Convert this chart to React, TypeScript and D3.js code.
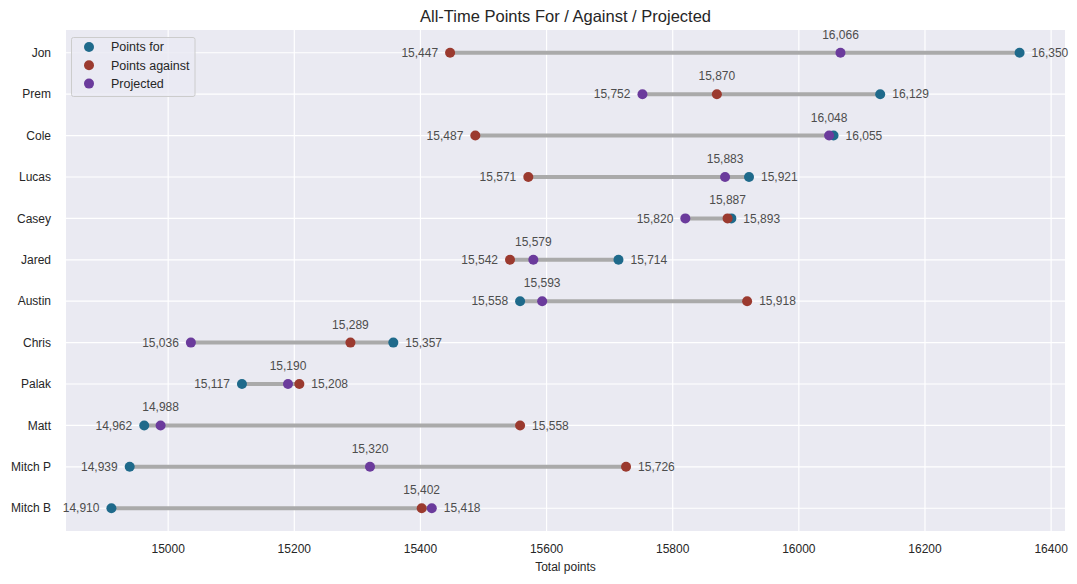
import React from "react";
import * as d3 from "d3";

const players = ["Jon", "Prem", "Cole", "Lucas", "Casey", "Jared", "Austin", "Chris", "Palak", "Matt", "Mitch P", "Mitch B"];
const pointsFor = [16350, 16129, 16055, 15921, 15893, 15714, 15558, 15357, 15117, 14962, 14939, 14910];
const pointsAgainst = [15447, 15870, 15487, 15571, 15887, 15542, 15918, 15289, 15208, 15558, 15726, 15402];
const projected = [16066, 15752, 16048, 15883, 15820, 15579, 15593, 15036, 15190, 14988, 15320, 15418];
const xTicks = [15000, 15200, 15400, 15600, 15800, 16000, 16200, 16400];

const series = [
  { name: "Points for", values: pointsFor, color: "#1f6a8b" },
  { name: "Points against", values: pointsAgainst, color: "#9b3a2f" },
  { name: "Projected", values: projected, color: "#6b3b9c" },
];

const W = 1077, H = 584;
const L = 66, R = 1065, T = 30, B = 531;
const FONT = "'Liberation Sans', Arial, sans-serif";

export default function App() {
  const allVals = [...pointsFor, ...pointsAgainst, ...projected];
  const mn = d3.min(allVals)!, mx = d3.max(allVals)!;
  const pad = (mx - mn) * 0.05;
  const x = d3.scaleLinear().domain([mn - pad, mx + pad]).range([L, R]);
  const n = players.length;
  const yPad = (n - 1) * 0.05;
  const y = d3.scaleLinear().domain([-yPad, n - 1 + yPad]).range([T, B]);
  const fmt = d3.format(",");

  return (
    <svg width={W} height={H} style={{ position: "absolute", left: 0, top: 0 }} fontFamily={FONT}>
      <rect width={W} height={H} fill="#ffffff" />
      <rect x={L} y={T} width={R - L} height={B - T} fill="#eaeaf2" />
      {xTicks.map((t) => (
        <line key={"gx" + t} x1={x(t)} x2={x(t)} y1={T} y2={B} stroke="#ffffff" strokeWidth={1.2} />
      ))}
      {players.map((p, i) => (
        <line key={"gy" + p} x1={L} x2={R} y1={y(i)} y2={y(i)} stroke="#ffffff" strokeWidth={1.2} />
      ))}
      {xTicks.map((t) => (
        <text key={"tx" + t} x={x(t)} y={B + 22} textAnchor="middle" fontSize={12} fill="#262626">{t}</text>
      ))}
      {players.map((p, i) => (
        <text key={"ty" + p} x={L - 15} y={y(i)} dy="0.35em" textAnchor="end" fontSize={12} fill="#262626">{p}</text>
      ))}
      <text x={(L + R) / 2} y={571} textAnchor="middle" fontSize={12} fill="#262626">Total points</text>
      <text x={(L + R) / 2} y={22} textAnchor="middle" fontSize={16.5} fill="#262626">All-Time Points For / Against / Projected</text>

      {players.map((p, i) => {
        const vals = [pointsFor[i], pointsAgainst[i], projected[i]];
        const lo = d3.min(vals)!, hi = d3.max(vals)!;
        const mid = vals.slice().sort((a, b) => a - b)[1];
        return (
          <g key={"row" + p}>
            <line x1={x(lo)} x2={x(hi)} y1={y(i)} y2={y(i)} stroke="#aaaaaa" strokeWidth={4} />
            {series.map((s) => (
              <circle key={s.name} cx={x(s.values[i])} cy={y(i)} r={5} fill={s.color} />
            ))}
            <text x={x(lo) - 12} y={y(i)} dy="0.35em" textAnchor="end" fontSize={12} fill="#4d4d4d">{fmt(lo)}</text>
            <text x={x(hi) + 12} y={y(i)} dy="0.35em" textAnchor="start" fontSize={12} fill="#4d4d4d">{fmt(hi)}</text>
            <text x={x(mid)} y={y(i) - 14} textAnchor="middle" fontSize={12} fill="#4d4d4d">{fmt(mid)}</text>
          </g>
        );
      })}

      <g>
        <rect x={71.5} y={37.5} width={123.5} height={59} fill="#eaeaf2" fillOpacity={0.8} stroke="#cccccc" rx={2} />
        {series.map((s, k) => (
          <g key={"lg" + s.name}>
            <circle cx={89} cy={47 + k * 18.3} r={5} fill={s.color} />
            <text x={111} y={47 + k * 18.3} dy="0.35em" fontSize={12.5} fill="#262626">{s.name}</text>
          </g>
        ))}
      </g>
    </svg>
  );
}
